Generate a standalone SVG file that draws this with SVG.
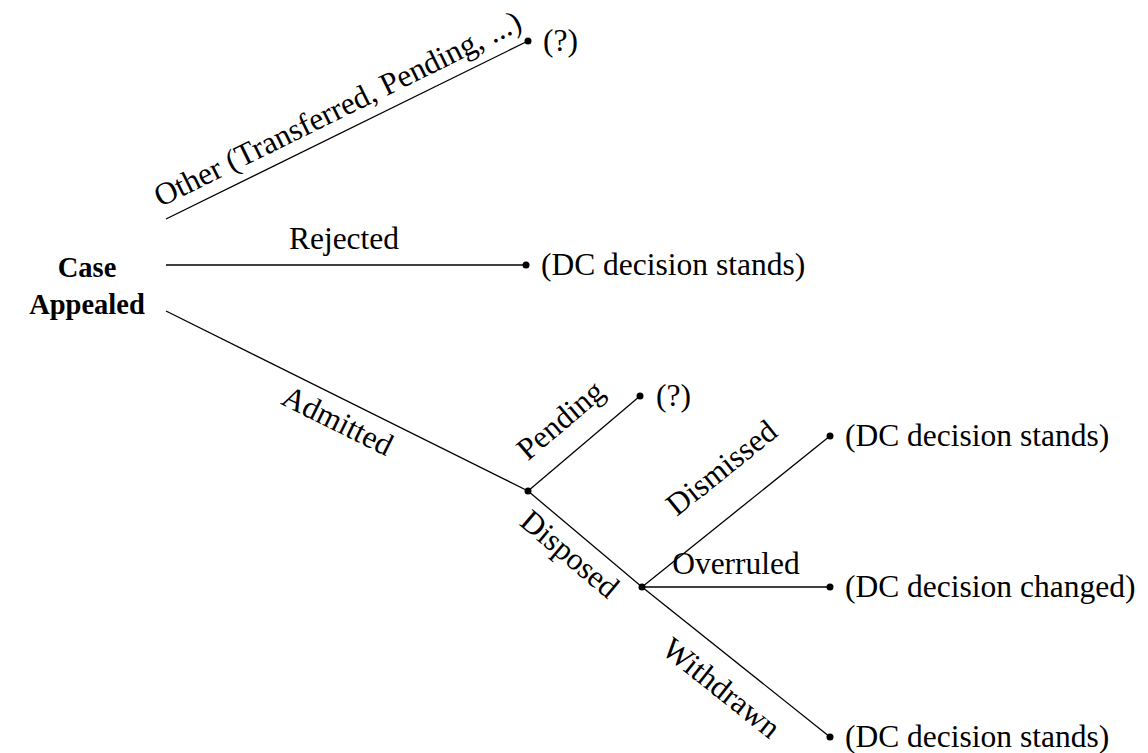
<svg xmlns="http://www.w3.org/2000/svg" width="1148" height="753" viewBox="0 0 1148 753" font-family="'Liberation Serif','Times New Roman',Times,serif">
<style>
text{font-family:"Liberation Serif","Times New Roman",Times,serif;font-size:31.5px;fill:#000}
.root{font-weight:bold;font-size:28.5px}
.edge{stroke:#000;stroke-width:1.3;fill:none}
.dot{fill:#000}
</style>
<rect width="1148" height="753" fill="#fff"/>
<g id="connectors">
<line class="edge" x1="166" y1="219" x2="528" y2="41"/>
<line class="edge" x1="166" y1="265" x2="526" y2="265"/>
<line class="edge" x1="166" y1="311" x2="528" y2="491"/>
<line class="edge" x1="528" y1="491" x2="640" y2="396"/>
<line class="edge" x1="528" y1="491" x2="642" y2="587"/>
<line class="edge" x1="642" y1="587" x2="830" y2="436"/>
<line class="edge" x1="642" y1="587" x2="830" y2="587"/>
<line class="edge" x1="642" y1="587" x2="830" y2="737"/>
<text transform="translate(342,118) rotate(-26.2)" text-anchor="middle">Other (Transferred, Pending, ...)</text>
<text x="344" y="249" text-anchor="middle">Rejected</text>
<text transform="translate(333,430) rotate(26.4)" text-anchor="middle">Admitted</text>
<text transform="translate(567,428) rotate(-40.3)" text-anchor="middle">Pending</text>
<text transform="translate(563,562) rotate(40.1)" text-anchor="middle">Disposed</text>
<text transform="translate(728,476) rotate(-38.8)" text-anchor="middle">Dismissed</text>
<text x="736" y="574" text-anchor="middle">Overruled</text>
<text transform="translate(715,696) rotate(38.6)" text-anchor="middle">Withdrawn</text>
</g>
<g id="root"><text class="root" x="87" y="277" text-anchor="middle">Case</text><text class="root" x="87" y="314" text-anchor="middle">Appealed</text></g>
<g id="n-other"><circle class="dot" cx="528" cy="41" r="3.5"/><text x="543" y="51">(?)</text></g>
<g id="n-rejected"><circle class="dot" cx="526" cy="265" r="3.5"/><text x="541" y="275">(DC decision stands)</text></g>
<g id="n-admitted"><circle class="dot" cx="528" cy="491" r="3.5"/></g>
<g id="n-pending"><circle class="dot" cx="640" cy="396" r="3.5"/><text x="656" y="406">(?)</text></g>
<g id="n-disposed"><circle class="dot" cx="642" cy="587" r="3.5"/></g>
<g id="n-dismissed"><circle class="dot" cx="830" cy="436" r="3.5"/><text x="845" y="446">(DC decision stands)</text></g>
<g id="n-overruled"><circle class="dot" cx="830" cy="587" r="3.5"/><text x="845" y="597">(DC decision changed)</text></g>
<g id="n-withdrawn"><circle class="dot" cx="830" cy="737" r="3.5"/><text x="845" y="747">(DC decision stands)</text></g>
</svg>
